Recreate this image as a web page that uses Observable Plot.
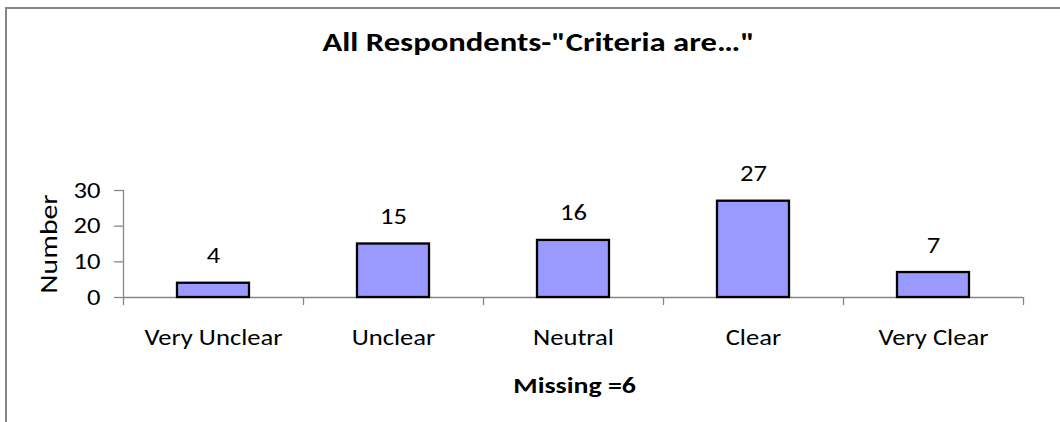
<!DOCTYPE html>
<html>
<head>
<meta charset="utf-8">
<script src="https://cdn.jsdelivr.net/npm/d3@7"></script>
<script src="https://cdn.jsdelivr.net/npm/@observablehq/plot@0.6"></script>
<style>
  html, body { margin: 0; padding: 0; background: #fff; overflow: hidden; width: 1060px; height: 422px; }
  body { position: relative; font-family: Carlito, Calibri, Lato, "Open Sans", sans-serif; }
  #frame { position: absolute; left: 5px; top: 7px; width: 2000px; height: 2000px;
           border-top: 2px solid #868686; border-left: 2px solid #868686; box-sizing: border-box; }
  #title { position: absolute; left: 0; top: 0; width: 1077px; height: 150px; text-align: center;
           font-weight: bold; font-size: 27px; line-height: 32px; padding-top: 26px; box-sizing: border-box; color: #000; }
  #chart { position: absolute; left: 0; top: 150px; }
  #caption { position: absolute; left: 125px; width: 900px; top: 372px; text-align: center;
             font-weight: bold; font-size: 23px; line-height: 26px; color: #000; }
  .stretch { display: inline-block; transform: scaleX(1.21); transform-origin: center; white-space: nowrap; }
</style>
</head>
<body>
<div id="frame"></div>
<div id="title"><span class="stretch">All Respondents-"Criteria are…"</span></div>
<div id="chart"></div>
<div id="caption"><span class="stretch">Missing =6</span></div>
<script>
const categories = ["Very Unclear", "Unclear", "Neutral", "Clear", "Very Clear"];
const counts = [4, 15, 16, 27, 7];
const yTicks = [0, 10, 20, 30];
const yLabel = "Number";

const data = categories.map((c, i) => ({category: c, count: counts[i]}));
const lastCategory = [categories[categories.length - 1]];

const FONT = "Carlito, Calibri, Lato, 'Open Sans', sans-serif";
const AXIS = "#868686";
const S = 1.21;

const chart = Plot.plot({
  width: 1060,
  height: 220,
  marginTop: 40,
  marginBottom: 73,
  marginLeft: 123,
  marginRight: 37,
  style: {fontFamily: FONT, fontSize: "22px", color: "#000", background: "transparent", overflow: "visible"},
  x: {domain: categories, padding: 0, label: null},
  y: {domain: [0, 30], label: null},
  marks: [
    Plot.ruleY([0], {stroke: AXIS, strokeWidth: 1.3}),
    Plot.ruleX([categories[0]], {y1: 0, y2: 30, dx: -90, stroke: AXIS, strokeWidth: 1.3}),
    Plot.ruleX(categories, {y1: 0, y2: 0, dx: -90, insetBottom: -8, stroke: AXIS, strokeWidth: 1.3}),
    Plot.ruleX(lastCategory, {y1: 0, y2: 0, dx: 90, insetBottom: -8, stroke: AXIS, strokeWidth: 1.3}),
    Plot.barY(data, {x: "category", y: "count", fill: "#9999FF", stroke: "#000", strokeWidth: 2.3, insetLeft: 54, insetRight: 54}),
    Plot.text(data, {x: "category", y: "count", text: d => String(d.count), dy: -27, fill: "#000", fontSize: 22}),
    Plot.axisY({ticks: yTicks, tickSize: 9, tickPadding: 14, stroke: AXIS, strokeWidth: 1.3, fill: "#000", fontSize: 22, label: null}),
    Plot.axisX({tickSize: 0, tickPadding: 32, fill: "#000", fontSize: 22, label: null}),
    Plot.text([yLabel], {frameAnchor: "left", textAnchor: "middle", dx: -75, rotate: -90, fill: "#000", fontSize: 24})
  ]
});
document.getElementById("chart").appendChild(chart);

// widen glyphs horizontally (the reference text is horizontally stretched)
chart.querySelectorAll("text").forEach((t) => {
  const bb = t.getBBox();
  const tr = t.getAttribute("transform") || "";
  if (/rotate/.test(tr)) {
    const cx = bb.x + bb.width / 2, cy = bb.y + bb.height / 2;
    t.setAttribute("transform", `${tr} translate(${cx},${cy}) scale(1.24,1.05) translate(${-cx},${-cy})`);
  } else {
    const anchor = getComputedStyle(t).textAnchor;
    const ax = anchor === "end" ? bb.x + bb.width : anchor === "start" ? bb.x : bb.x + bb.width / 2;
    t.setAttribute("transform", `${tr} translate(${ax},0) scale(${S},1) translate(${-ax},0)`);
  }
});
</script>
</body>
</html>
